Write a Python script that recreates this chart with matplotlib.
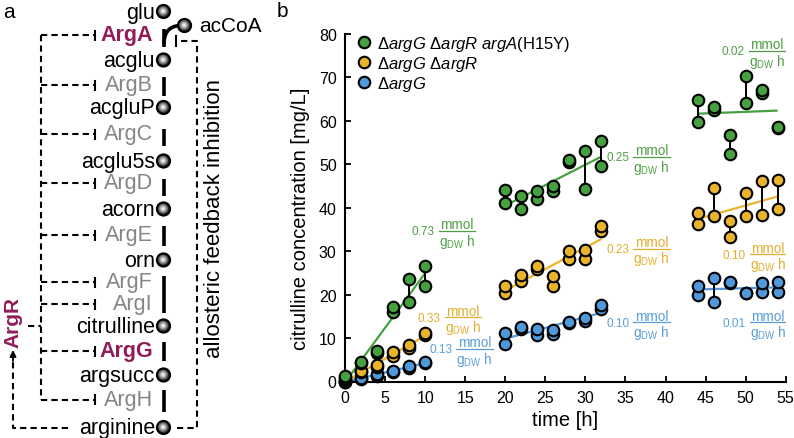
import numpy as np
import matplotlib
matplotlib.use("Agg")
import matplotlib.pyplot as plt
from matplotlib.patches import Circle, PathPatch
from matplotlib.path import Path
from matplotlib.transforms import IdentityTransform
from matplotlib.lines import Line2D

plt.rcParams['font.family'] = ['Liberation Sans', 'DejaVu Sans']
plt.rcParams['mathtext.fontset'] = 'custom'
plt.rcParams['mathtext.rm'] = 'Liberation Sans'
plt.rcParams['mathtext.it'] = 'Liberation Sans:italic'
plt.rcParams['mathtext.bf'] = 'Liberation Sans:bold'

# ---------------- data (panel b) ----------------
times = [0, 2, 4, 6, 8, 10, 20, 22, 24, 26, 28, 30, 32, 44, 46, 48, 50, 52, 54]

green_rep1 = [1.2, 4.6, 7.0, 17.2, 23.6, 26.7, 44.1, 42.6, 43.9, 45.1, 51.1, 53.0, 55.4,
              64.8, 63.1, 56.8, 70.3, 67.1, 58.5]
green_rep2 = [0.8, 4.3, 6.5, 16.1, 18.4, 21.9, 41.1, 39.6, 42.0, 43.8, 50.6, 44.3, 49.5,
              59.7, 62.6, 52.4, 64.1, 66.4, 58.3]

yellow_rep1 = [0.3, 2.5, 3.8, 6.9, 8.5, 11.1, 22.1, 24.6, 26.7, 24.3, 30.1, 30.2, 35.9,
               38.8, 44.5, 36.9, 43.4, 46.2, 46.5]
yellow_rep2 = [0.0, 2.1, 3.3, 5.9, 7.8, 10.7, 20.4, 23.1, 25.9, 22.1, 28.2, 28.1, 34.6,
               36.3, 38.0, 33.2, 38.2, 38.3, 39.7]

blue_rep1 = [0.2, 0.9, 1.7, 2.5, 3.6, 4.6, 11.1, 12.5, 12.2, 11.9, 13.6, 14.6, 17.6,
             21.9, 23.8, 23.0, 20.4, 22.6, 22.8]
blue_rep2 = [0.0, 0.6, 1.3, 2.2, 3.0, 4.3, 8.6, 12.1, 10.7, 11.0, 13.4, 13.9, 16.7,
             19.9, 18.4, 22.7, 20.3, 20.7, 20.7]

phases = [(0, 10), (20, 32), (44, 54)]

strain_labels = ['Δ$\\mathit{argG}$ Δ$\\mathit{argR}$ $\\mathit{argA}$(H15Y)',
                 'Δ$\\mathit{argG}$ Δ$\\mathit{argR}$',
                 'Δ$\\mathit{argG}$']

green_rates = ['0.73', '0.25', '0.02']
yellow_rates = ['0.33', '0.23', '0.10']
blue_rates = ['0.13', '0.10', '0.01']
rate_num = 'mmol'
rate_den = 'g$_\\mathrm{DW}$ h'

xticks = list(range(0, 56, 5))
yticks = list(range(0, 81, 10))

# ---------------- data (panel a) ----------------
metabolites = ['glu', 'acglu', 'acgluP', 'acglu5s', 'acorn', 'orn', 'citrulline', 'argsucc', 'arginine']
enzymes = ['ArgA', 'ArgB', 'ArgC', 'ArgD', 'ArgE', 'ArgF', 'ArgI', 'ArgG', 'ArgH']
highlight = ['ArgA', 'ArgG']

# ---------------- style ----------------
c_green, c_yellow, c_blue = '#45a041', '#e8b42c', '#4f98da'
t_green, t_yellow, t_blue = '#4f9f45', '#e3ae2e', '#5a9ed8'
magenta = '#921c5b'

fig = plt.figure(figsize=(7.94, 4.39), dpi=100)
W, H = 794, 439

# ================= panel b =================
ax = fig.add_axes([345 / W, 1 - 382.5 / H, (785.7 - 345) / W, (382.5 - 35) / H])
ax.set_xlim(0, 55)
ax.set_ylim(0, 80)

series = [
    (blue_rep1, blue_rep2, c_blue, strain_labels[2]),
    (yellow_rep1, yellow_rep2, c_yellow, strain_labels[1]),
    (green_rep1, green_rep2, c_green, strain_labels[0]),
]

t_arr = np.array(times, dtype=float)
handles = {}
for k, (r1, r2, col, lab) in enumerate(series):
    r1 = np.array(r1); r2 = np.array(r2)
    for (a, b) in phases:
        m = (t_arr >= a) & (t_arr <= b)
        tt = np.concatenate([t_arr[m], t_arr[m]])
        yy = np.concatenate([r1[m], r2[m]])
        p = np.polyfit(tt, yy, 1)
        xs = np.array([a, b], dtype=float)
        ax.plot(xs, np.polyval(p, xs), color=col, lw=1.6, zorder=2 + k * 0.1,
                solid_capstyle='butt', clip_on=False)
    ax.vlines(t_arr, np.minimum(r1, r2), np.maximum(r1, r2), color='k', lw=1.4,
              zorder=3 + k * 0.1)
    h, = ax.plot(t_arr, r2, 'o', ms=8.3, mfc=col, mec='k', mew=1.5, zorder=4 + k * 0.1,
                 clip_on=False, label=lab)
    ax.plot(t_arr, r1, 'o', ms=8.3, mfc=col, mec='k', mew=1.5, zorder=4 + k * 0.1,
            clip_on=False)
    handles[lab] = h

for s in ['top', 'right']:
    ax.spines[s].set_visible(False)
for s in ['left', 'bottom']:
    ax.spines[s].set_linewidth(1.5)
ax.set_xticks(xticks)
ax.set_yticks(yticks)
ax.tick_params(direction='in', length=4, width=1.3, labelsize=11.5, pad=6)
ax.set_xlabel('time [h]', fontsize=14.5)
ax.set_ylabel('citrulline concentration [mg/L]', fontsize=14.5)
ax.xaxis.set_label_coords(0.4995, -0.108)
ax.xaxis.label.set_va('center')
ax.yaxis.set_label_coords(-0.102, 0.472)
ax.yaxis.label.set_va('center')

leg = ax.legend([handles[l] for l in strain_labels], strain_labels, loc='upper left',
                bbox_to_anchor=(0.029, 1.0), frameon=False, fontsize=12,
                handlelength=0.8, handletextpad=0.35, labelspacing=0.05,
                borderpad=0, borderaxespad=0)

# rate annotations (number + stacked fraction)
ann_pos = {
    'green': [(8.3, 34.6), (32.6, 51.6), (47.0, 76.0)],
    'yellow': [(9.1, 14.7), (32.6, 30.5), (47.1, 29.2)],
    'blue': [(10.5, 7.4), (32.6, 13.5), (47.1, 13.5)],
}
renderer = fig.canvas.get_renderer()
ident = IdentityTransform()
for key, rates, tcol in [('green', green_rates, t_green), ('yellow', yellow_rates, t_yellow),
                         ('blue', blue_rates, t_blue)]:
    for (x, y), r in zip(ann_pos[key], rates):
        tnum = ax.text(x, y, r, color=tcol, fontsize=8.5, ha='left', va='center', zorder=6)
        bb = tnum.get_window_extent(renderer)
        yc = ax.transData.transform((x, y))[1] + 0.5
        tn = ax.text(0, 0, rate_num, color=tcol, fontsize=9.8, ha='center', va='baseline',
                     transform=ident, zorder=6)
        td = ax.text(0, 0, rate_den, color=tcol, fontsize=9.8, ha='center', va='top',
                     transform=ident, zorder=6)
        w = max(tn.get_window_extent(renderer).width, td.get_window_extent(renderer).width)
        x0 = bb.x1 + 4
        cx = x0 + w / 2
        tn.set_position((cx, yc + 2.5))
        td.set_position((cx, yc - 0.8))
        ax.add_line(Line2D([x0, x0 + w], [yc, yc], transform=ident, color=tcol, lw=0.9,
                           zorder=6))

# ================= panel a (overlay in pixel coordinates) =================
ov = fig.add_axes([0, 0, 1, 1], zorder=-1)
ov.set_xlim(0, W)
ov.set_ylim(H, 0)
ov.axis('off')

fig.text(3 / W, 1 - 13 / H, 'a', fontsize=15, va='center', ha='left')
fig.text(277 / W, 1 - 11.5 / H, 'b', fontsize=15, va='center', ha='left')

node_x = 163.5
node_y = [12.5, 61, 108.5, 162, 210, 261, 327, 376, 428.5]
enz_y = [36, 86, 135, 184, 236, 283, 305, 352, 401]
bars = [(30, 48), (77.5, 97), (130, 147), (180, 197), (227, 247), (276.5, 313.5),
        (342.5, 362), (391.5, 413.5)]
dash = (0, (3, 2))
lw_d = 1.5


def node(x, y, r=6.5):
    ov.add_patch(Circle((x, y), r, fc='#303030', ec='k', lw=1.6, zorder=5))
    for rr, cc in [(4.8, '#6e6e6e'), (3.5, '#a5a5a5'), (2.2, '#d6d6d6'), (1.0, '#f8f8f8')]:
        ov.add_patch(Circle((x - 0.4, y - 0.4), rr, fc=cc, ec='none', zorder=6))


for (y0, y1) in bars:
    ov.plot([node_x, node_x], [y0, y1], color='k', lw=2.6, solid_capstyle='butt', zorder=3)

accoa = (184.5, 26.5)
pth = Path([(node_x + 0.5, 45), (node_x + 0.5, 27), (accoa[0] - 4, accoa[1])],
           [Path.MOVETO, Path.CURVE3, Path.CURVE3])
ov.add_patch(PathPatch(pth, fc='none', ec='k', lw=2.6, zorder=3))
node(*accoa)
ov.text(199, 26.5, 'acCoA', fontsize=15, ha='left', va='center')

for name, y in zip(metabolites, node_y):
    node(node_x, y)
    ov.text(155, y + 0.5, name, fontsize=15.5, ha='right', va='center')

for name, y in zip(enzymes, enz_y):
    if name in highlight:
        ov.text(153, y, name, fontsize=15.5, ha='right', va='center', color=magenta,
                fontweight='bold')
    else:
        ov.text(153, y, name, fontsize=15.5, ha='right', va='center', color='#858585')
    ov.plot([41, 95], [y, y], color='k', lw=lw_d, ls=dash, zorder=2)
    ov.plot([95, 95], [y - 4.5, y + 4.5], color='k', lw=lw_d, zorder=2)

ov.plot([41, 41], [enz_y[0], enz_y[-1]], color='k', lw=lw_d, ls=dash, zorder=2)
ov.plot([28, 41], [326.5, 326.5], color='k', lw=lw_d, ls=dash, zorder=2)
ov.text(13, 322.5, 'ArgR', fontsize=15, rotation=90, ha='center', va='center',
        color=magenta, fontweight='bold')

ov.plot([68, 13, 13], [429.5, 429.5, 360], color='k', lw=lw_d, ls=dash, zorder=2)
ov.annotate('', xy=(13, 351), xytext=(13, 362),
            arrowprops=dict(arrowstyle='-|>', color='k', lw=1.3, mutation_scale=9,
                            shrinkA=0, shrinkB=0))

ov.plot([177, 197, 197, 176], [429.5, 429.5, 41.7, 41.7], color='k', lw=lw_d, ls=dash, zorder=2)
ov.plot([175.5, 175.5], [37, 47], color='k', lw=lw_d, zorder=2)
ov.text(215, 219, 'allosteric feedback inhibition', fontsize=16, rotation=90,
        ha='center', va='center')

fig.savefig('out.png', dpi=100)
